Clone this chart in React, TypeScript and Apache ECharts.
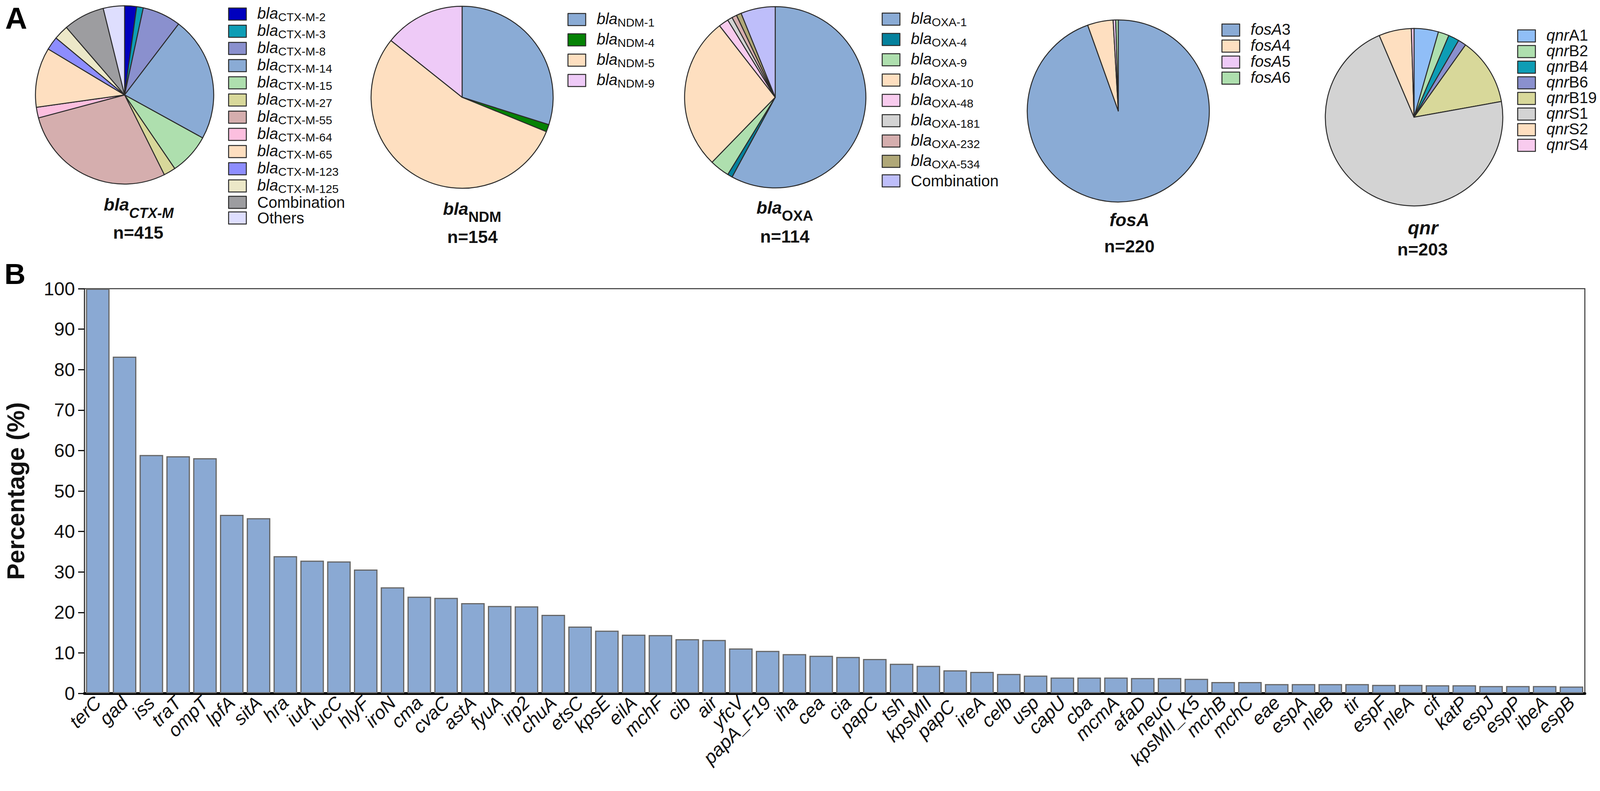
import React, { useEffect, useRef } from "react";
import * as echarts from "echarts";

const FONT = "'Liberation Sans', Arial, sans-serif";

const ctxNames = ["blaCTX-M-2","blaCTX-M-3","blaCTX-M-8","blaCTX-M-14","blaCTX-M-15","blaCTX-M-27","blaCTX-M-55","blaCTX-M-64","blaCTX-M-65","blaCTX-M-123","blaCTX-M-125","Combination","Others"];
const ctxValues = [9,5,29,94,31,9,117,8,45,10,11,31,16];
const ctxColors = ["#0000BE","#0E9DB5","#8A90CE","#8AABD5","#AEDFAE","#D8D89A","#D5AEAE","#FCBFDF","#FEDFC0","#8D8DFE","#ECE8C8","#9D9DA0","#DEDEFE"];

const ndmNames = ["blaNDM-1","blaNDM-4","blaNDM-5","blaNDM-9"];
const ndmValues = [46,2,84,22];
const ndmColors = ["#8AABD5","#058205","#FEDFC0","#EECAF7"];

const oxaNames = ["blaOXA-1","blaOXA-4","blaOXA-9","blaOXA-10","blaOXA-48","blaOXA-181","blaOXA-232","blaOXA-534","Combination"];
const oxaValues = [66,1,4,31,2,1,1,1,7];
const oxaColors = ["#8AABD5","#05819D","#AEDFAE","#FEDFC0","#F8CBEE","#D3D3D3","#D5AEAE","#B0A878","#BEBEFA"];

const fosNames = ["fosA3","fosA4","fosA5","fosA6"];
const fosValues = [208,10,1,1];
const fosColors = ["#8AABD5","#FEDFC0","#EECAF7","#AEDFAE"];

const qnrNames = ["qnrA1","qnrB2","qnrB4","qnrB6","qnrB19","qnrS1","qnrS2","qnrS4"];
const qnrValues = [9,4,4,3,25,145,12,1];
const qnrColors = ["#90BEF7","#AEDFAE","#0E9DB5","#8A90CE","#D8D89A","#D3D3D3","#FEDFC0","#F8CBEE"];

const genes = ["terC","gad","iss","traT","ompT","lpfA","sitA","hra","iutA","iucC","hlyF","iroN","cma","cvaC","astA","fyuA","irp2","chuA","etsC","kpsE","eilA","mchF","cib","air","yfcV","papA_F19","iha","cea","cia","papC","tsh","kpsMII","papC ","ireA","celb","usp","capU","cba","mcmA","afaD","neuC","kpsMII_K5","mchB","mchC","eae","espA","nleB","tir","espF","nleA","cif","katP","espJ","espP","ibeA","espB"];
const percentages = [100,83.2,58.9,58.6,58.1,44.1,43.3,33.9,32.8,32.6,30.6,26.2,23.9,23.6,22.3,21.6,21.5,19.4,16.5,15.5,14.5,14.4,13.4,13.2,11.1,10.5,9.7,9.3,9.0,8.5,7.3,6.8,5.7,5.3,4.8,4.4,3.9,3.9,3.9,3.8,3.8,3.6,2.8,2.8,2.3,2.3,2.3,2.3,2.1,2.1,2.0,2.0,1.8,1.8,1.8,1.7];

const TEXT = "#111";
const legendRich = {
  i: { fontFamily: FONT, fontStyle: "italic", fontSize: 40, lineHeight: 44, verticalAlign: "top", color: TEXT },
  s: { fontFamily: FONT, fontSize: 30, lineHeight: 44, verticalAlign: "bottom", color: TEXT },
  p: { fontFamily: FONT, fontSize: 40, lineHeight: 44, color: TEXT },
  u: { fontFamily: FONT, fontSize: 40, lineHeight: 44, verticalAlign: "top", color: TEXT },
};

function legendLabel(name: string) {
  if (name.startsWith("bla")) return `{i|bla}{s|${name.slice(3)}}`;
  if (name.startsWith("fos")) return `{i|fosA}{u|${name.slice(4)}}`;
  if (name.startsWith("qnr")) return `{i|qnr}{u|${name.slice(3)}}`;
  return `{p|${name}}`;
}

const BORDER = "#2b2b2b";

const big = (size: number) => ({ fontFamily: FONT, fontWeight: "bold", fontStyle: "italic", fontSize: size, fill: TEXT, lineHeight: 62, verticalAlign: "top" });
const sub = (size: number, italic: boolean) => ({ fontFamily: FONT, fontWeight: "bold", fontStyle: italic ? "italic" : "normal", fontSize: size, fill: TEXT, lineHeight: 62, verticalAlign: "bottom" });
const nRich = { n: { fontFamily: FONT, fontWeight: "bold", fontSize: 45, fill: TEXT } };

export default function App() {
  const ref = useRef<HTMLDivElement>(null);
  useEffect(() => {
    const W = Math.min(window.innerWidth, 4328);
    const sx = W / 4328;
    const X = (v: number) => v * sx;
    const R = (v: number) => v * 0.975;

    const pie = (name: string, names: string[], values: number[], colors: string[], cx: number, cy: number, r: number) => ({
      type: "pie", name, center: [X(cx), cy], radius: R(r), startAngle: 90, clockwise: true, silent: true,
      label: { show: false }, labelLine: { show: false },
      data: names.map((n, i) => ({ name: n, value: values[i], itemStyle: { color: colors[i], borderColor: BORDER, borderWidth: 2.5 } })),
    });
    const legend = (names: string[], colors: string[], left: number, top: number, step: number) => ({
      orient: "vertical", left: X(left), top: top - 7, selectedMode: false, itemWidth: X(48), itemHeight: 31, itemGap: step - 44,
      padding: 0, icon: "rect",
      data: names.map((n, i) => ({ name: n, itemStyle: { color: colors[i], borderColor: BORDER, borderWidth: 2.5 } })),
      formatter: legendLabel,
      textStyle: { rich: legendRich, padding: [0, 0, 0, 23] },
    });
    const titleText = (x: number, y: number, text: string, rich: any) => ({
      type: "text", x: X(x), y, style: { text, rich, align: "center", verticalAlign: "middle", fill: TEXT },
    });

    const chart = echarts.init(ref.current!, undefined, { renderer: "svg" });
    chart.setOption({
      animation: false,
      backgroundColor: "#fff",
      textStyle: { fontFamily: FONT },
      legend: [
        legend(ctxNames, ctxColors, 617, 21, 44),
        legend(ndmNames, ndmColors, 1535, 35, 52),
        legend(oxaNames, oxaColors, 2385, 34, 52),
        legend(fosNames, fosColors, 3304, 62, 45),
        legend(qnrNames, qnrColors, 4104, 77, 44),
      ],
      grid: { left: X(222), top: 739, width: X(4065), height: 1036, show: true, borderColor: "#333", borderWidth: 2.5, containLabel: false },
      xAxis: {
        type: "category", data: genes,
        axisLine: { lineStyle: { color: "#000", width: 7 } },
        axisTick: { alignWithLabel: true, length: 15, lineStyle: { color: "#111", width: 3 } },
        axisLabel: { interval: 0, rotate: 45, fontSize: 48, fontStyle: "italic", color: TEXT, margin: 16, fontFamily: FONT },
      },
      yAxis: {
        type: "value", min: 0, max: 100, interval: 10,
        name: "Percentage (%)", nameLocation: "middle", nameGap: 145,
        nameTextStyle: { fontSize: 63, fontWeight: "bold", color: TEXT, fontFamily: FONT },
        splitLine: { show: false },
        axisLine: { show: true, lineStyle: { color: "#333", width: 2.5 } },
        axisTick: { show: true, length: 16, lineStyle: { color: "#111", width: 3 } },
        axisLabel: { fontSize: 48, color: TEXT, margin: 24, fontFamily: FONT },
      },
      series: [
        pie("blaCTX-M", ctxNames, ctxValues, ctxColors, 337, 243, 234),
        pie("blaNDM", ndmNames, ndmValues, ndmColors, 1250, 249, 239),
        pie("blaOXA", oxaNames, oxaValues, oxaColors, 2097, 249, 238),
        pie("fosA", fosNames, fosValues, fosColors, 3025, 284, 239),
        pie("qnr", qnrNames, qnrValues, qnrColors, 3825, 300, 233),
        {
          type: "bar", data: percentages, barCategoryGap: "12%", silent: true,
          itemStyle: { color: "#8AA9D3", borderColor: "#666", borderWidth: 3 },
        },
      ],
      graphic: [
        { type: "text", x: X(14), y: 8, style: { text: "A", fontFamily: FONT, fontWeight: "bold", fontSize: 78, fill: "#000" } },
        { type: "text", x: X(12), y: 663, style: { text: "B", fontFamily: FONT, fontWeight: "bold", fontSize: 75, fill: "#000" } },
        titleText(375, 532, "{a|bla}{b|CTX-M}", { a: big(45), b: sub(36, true) }),
        titleText(374, 595, "{n|n=415}", nRich),
        titleText(1277, 543, "{a|bla}{b|NDM}", { a: big(45), b: sub(37, false) }),
        titleText(1278, 606, "{n|n=154}", nRich),
        titleText(2123, 540, "{a|bla}{b|OXA}", { a: big(45), b: sub(37, false) }),
        titleText(2123, 605, "{n|n=114}", nRich),
        titleText(3055, 571, "{a|fosA}", { a: big(46) }),
        titleText(3055, 630, "{n|n=220}", nRich),
        titleText(3849, 590, "{a|qnr}", { a: big(48) }),
        titleText(3848, 638, "{n|n=203}", nRich),
      ],
    });
    return () => chart.dispose();
  }, []);
  return <div ref={ref} style={{ position: "absolute", left: 0, top: 0, width: "100vw", height: 2025 }} />;
}
